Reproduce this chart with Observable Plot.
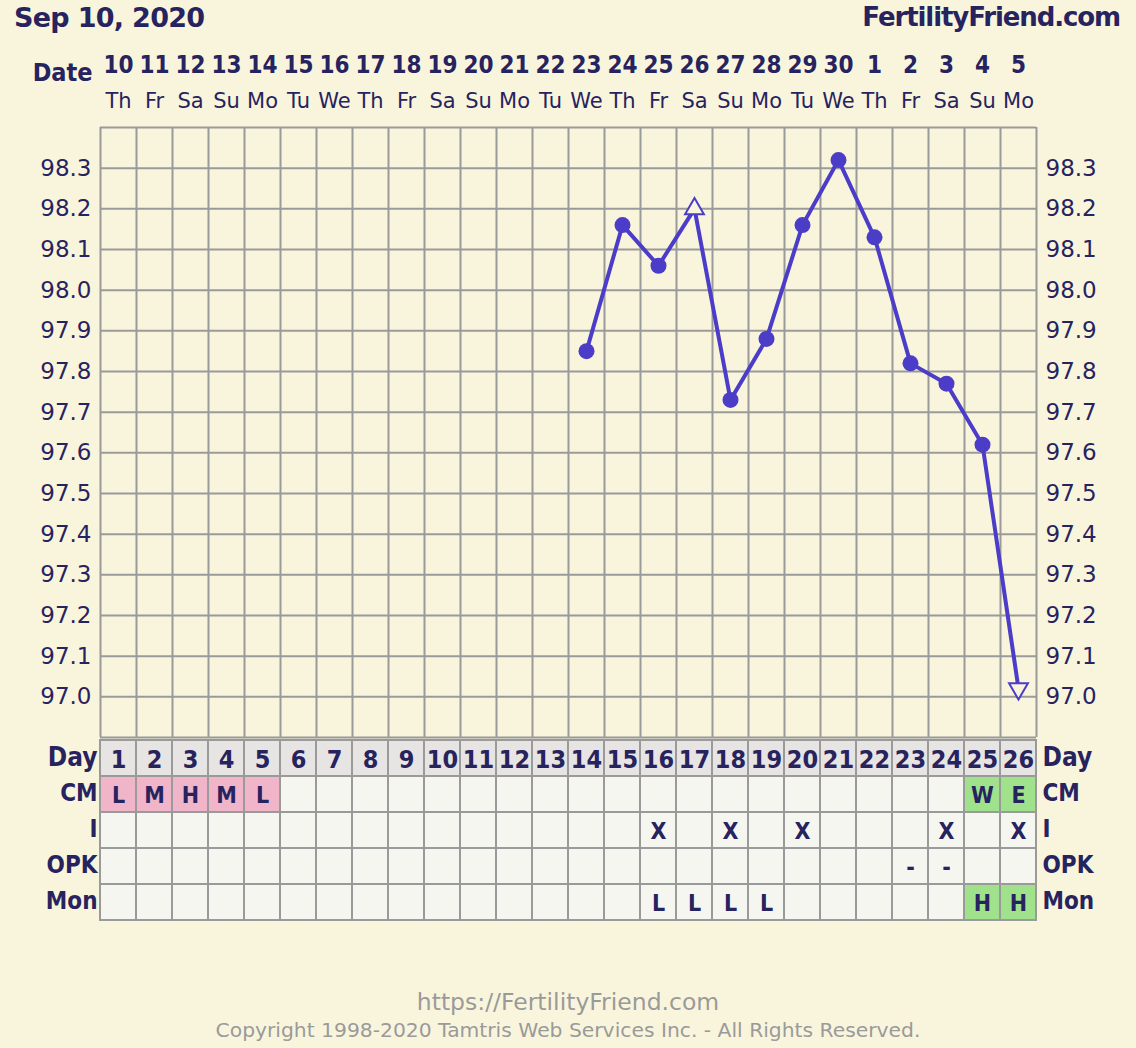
<!DOCTYPE html>
<html>
<head>
<meta charset="utf-8">
<script src="https://cdn.jsdelivr.net/npm/d3@7"></script>
<script src="https://cdn.jsdelivr.net/npm/@observablehq/plot@0.6"></script>
<style>
  html, body { margin: 0; padding: 0; background: #f9f5dd; }
  #wrap { position: relative; width: 1136px; height: 1048px; overflow: hidden; font-family: "DejaVu Sans", Verdana, sans-serif; }
  .hdr { position: absolute; top: 2px; font-weight: bold; color: #27235f; font-family: "DejaVu Sans", sans-serif; }
  #p1 { position: absolute; left: 0; top: 40px; }
  #p2 { position: absolute; left: 0; top: 739px; }
  .foot { position: absolute; left: 0; width: 1136px; text-align: center; color: #9a9a9a; }
</style>
</head>
<body>
<div id="wrap">
  <div class="hdr" style="left:14px; font-size:27px; letter-spacing:-0.7px;">Sep 10, 2020</div>
  <div class="hdr" style="right:16px; font-size:26px; letter-spacing:-1.1px;">FertilityFriend.com</div>
  <div id="p1"></div>
  <div id="p2"></div>
  <div class="foot" style="top:988px; font-size:23.5px;">https://FertilityFriend.com</div>
  <div class="foot" style="top:1018px; font-size:20.3px;">Copyright 1998-2020 Tamtris Web Services Inc. - All Rights Reserved.</div>
</div>
<script>
// ---------- data ----------
const days = [1,2,3,4,5,6,7,8,9,10,11,12,13,14,15,16,17,18,19,20,21,22,23,24,25,26];
const dates = [10,11,12,13,14,15,16,17,18,19,20,21,22,23,24,25,26,27,28,29,30,1,2,3,4,5];
const weekdays = ["Th","Fr","Sa","Su","Mo","Tu","We","Th","Fr","Sa","Su","Mo","Tu","We","Th","Fr","Sa","Su","Mo","Tu","We","Th","Fr","Sa","Su","Mo"];
const tempDays = [14,15,16,17,18,19,20,21,22,23,24,25,26];
const temps = [97.85,98.16,98.06,98.20,97.73,97.88,98.16,98.32,98.13,97.82,97.77,97.62,97.02];
const tempMarkers = ["dot","dot","dot","up","dot","dot","dot","dot","dot","dot","dot","dot","down"];
const yTickLabels = [97.0,97.1,97.2,97.3,97.4,97.5,97.6,97.7,97.8,97.9,98.0,98.1,98.2,98.3];
const yGridLines = [96.9,97.0,97.1,97.2,97.3,97.4,97.5,97.6,97.7,97.8,97.9,98.0,98.1,98.2,98.3,98.4];
const rowNames = ["Day","CM","I","OPK","Mon"];
const cmValues  = ["L","M","H","M","L","","","","","","","","","","","","","","","","","","","","W","E"];
const iValues   = ["","","","","","","","","","","","","","","","X","","X","","X","","","","X","","X"];
const opkValues = ["","","","","","","","","","","","","","","","","","","","","","","-","-","",""];
const monValues = ["","","","","","","","","","","","","","","","L","L","L","L","","","","","","H","H"];

// ---------- styles ----------
const NAVY = "#27235f";
const PURPLE = "#4b3dc8";
const BG = "#f9f5dd";
const GRID = "#9a9a9a";
const FONT = "DejaVu Sans, Verdana, sans-serif";
const FONT_B = "DejaVu Sans Condensed, DejaVu Sans, sans-serif";

const tempData = tempDays.map((d, i) => ({day: d, temp: temps[i], marker: tempMarkers[i]}));
const xGrid = days.map(d => d - 0.5).concat([days[days.length - 1] + 0.5]);

const triDown = {
  draw(context, size) {
    const y = -Math.sqrt(size / (Math.sqrt(3) * 3));
    context.moveTo(0, -y * 2);
    context.lineTo(-Math.sqrt(3) * y, y);
    context.lineTo(Math.sqrt(3) * y, y);
    context.closePath();
  }
};

const p1 = Plot.plot({
  width: 1136,
  height: 700,
  marginTop: 87,
  marginBottom: 3,
  marginLeft: 100,
  marginRight: 100,
  style: {background: "transparent", fontFamily: FONT, color: NAVY, overflow: "visible"},
  x: {domain: [0.5, 26.5], axis: null},
  y: {domain: [96.9, 98.4], axis: null},
  marks: [
    Plot.ruleX(xGrid, {stroke: GRID, strokeWidth: 2, strokeOpacity: 1}),
    Plot.ruleY(yGridLines, {stroke: GRID, strokeWidth: 2, strokeOpacity: 1}),
    // date header rows
    Plot.text(days, {x: d => d, text: (d, i) => String(dates[i]), frameAnchor: "top", dy: -72, fontSize: 24, fontWeight: "bold", fontFamily: FONT_B, fill: NAVY}),
    Plot.text(days, {x: d => d, text: (d, i) => weekdays[i], frameAnchor: "top", dy: -34, fontSize: 21, fill: NAVY}),
    Plot.text(["Date"], {frameAnchor: "top-left", dx: -8, dy: -64, textAnchor: "end", fontSize: 25, fontWeight: "bold", fontFamily: FONT_B, fill: NAVY}),
    // y tick labels both sides
    Plot.text(yTickLabels, {y: d => d, text: d => d.toFixed(1), frameAnchor: "left", textAnchor: "end", dx: -9, fontSize: 23, fill: NAVY}),
    Plot.text(yTickLabels, {y: d => d, text: d => d.toFixed(1), frameAnchor: "right", textAnchor: "start", dx: 9, fontSize: 23, fill: NAVY}),
    // temperature line
    Plot.line(tempData, {x: "day", y: "temp", stroke: PURPLE, strokeWidth: 4}),
    Plot.dot(tempData.filter(d => d.marker === "dot"), {x: "day", y: "temp", r: 8, fill: PURPLE, stroke: "none"}),
    Plot.dot(tempData.filter(d => d.marker === "up"), {x: "day", y: "temp", symbol: "triangle", r: 7, fill: BG, stroke: PURPLE, strokeWidth: 2}),
    Plot.dot(tempData.filter(d => d.marker === "down"), {x: "day", y: "temp", symbol: triDown, r: 7, fill: BG, stroke: PURPLE, strokeWidth: 2})
  ]
});
document.getElementById("p1").appendChild(p1);

// ---------- table ----------
const rowValues = {Day: days.map(d => String(d)), CM: cmValues, I: iValues, OPK: opkValues, Mon: monValues};
const cellData = [];
for (const r of rowNames) {
  days.forEach((d, i) => cellData.push({row: r, day: d, value: rowValues[r][i]}));
}
function cellFill(c) {
  if (c.row === "Day") return "#e6e5e3";
  if (c.row === "CM" && ["L","M","H"].includes(c.value)) return "#f1b5ca";
  if (c.row === "CM" && ["W","E"].includes(c.value)) return "#9fe28b";
  if (c.row === "Mon" && c.value === "H") return "#9fe28b";
  return "#f6f6f0";
}

const p2 = Plot.plot({
  width: 1136,
  height: 183,
  marginTop: 1,
  marginBottom: 2,
  marginLeft: 100,
  marginRight: 100,
  style: {background: "transparent", fontFamily: FONT_B, color: NAVY, overflow: "visible"},
  x: {type: "band", domain: days, padding: 0, axis: null},
  y: {type: "band", domain: rowNames, padding: 0, axis: null},
  color: {type: "identity"},
  marks: [
    Plot.cell(cellData, {x: "day", y: "row", fill: cellFill, stroke: GRID, strokeWidth: 2, inset: 0}),
    Plot.text(cellData.filter(c => c.value !== ""), {x: "day", y: "row", text: "value", fontSize: d => d.row === "Day" ? 25 : 23, fontWeight: "bold", fill: NAVY, dy: 1}),
    Plot.text(rowNames, {y: d => d, text: d => d, frameAnchor: "left", textAnchor: "end", dx: -3, fontSize: d => d === "Day" ? 26 : 24, fontWeight: "bold", fill: NAVY, dy: -1, letterSpacing: -1}),
    Plot.text(rowNames, {y: d => d, text: d => d, frameAnchor: "right", textAnchor: "start", dx: 6, fontSize: d => d === "Day" ? 26 : 24, fontWeight: "bold", fill: NAVY, dy: -1, letterSpacing: -1})
  ]
});
document.getElementById("p2").appendChild(p2);
</script>
</body>
</html>
